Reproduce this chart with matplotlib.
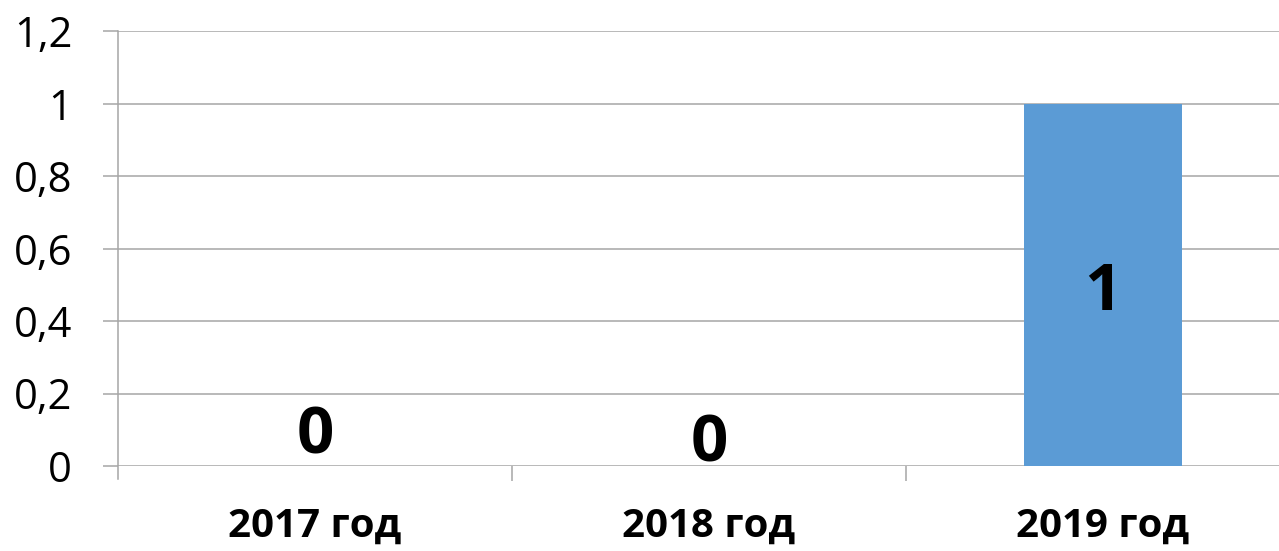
import matplotlib
matplotlib.use("Agg")
import matplotlib.pyplot as plt
from matplotlib.ticker import FixedLocator, FuncFormatter

categories = ["2017 год", "2018 год", "2019 год"]
values = [0, 0, 1]
label_texts = ["0", "0", "1"]
yticks = [0, 0.2, 0.4, 0.6, 0.8, 1.0, 1.2]

plt.rcParams['font.family'] = ['Open Sans', 'DejaVu Sans']

W, H = 1279, 551
fig = plt.figure(figsize=(W / 100, H / 100), dpi=100)
left, right, top, bottom = 118, 1300, 31, 466
ax = fig.add_axes([left / W, 1 - bottom / H, (right - left) / W, (bottom - top) / H])

grid_c = "#A6A6A6"
x = list(range(len(categories)))
ax.bar(x, values, width=0.4, color="#5B9BD5", zorder=3)

ax.set_xlim(-0.5, len(categories) - 0.5)
ax.set_ylim(0, 1.2)
ax.set_yticks(yticks)
ax.yaxis.set_major_formatter(FuncFormatter(lambda v, p: ("%g" % round(v, 1)).replace(".", ",")))
ax.grid(axis="y", color=grid_c, linewidth=1.1, zorder=0)
ax.set_axisbelow(True)

for s in ["top", "right", "bottom"]:
    ax.spines[s].set_visible(False)
ax.spines["left"].set_color(grid_c)
ax.spines["left"].set_linewidth(1.1)
ax.spines["left"].set_bounds(-0.035, 1.2)

ax.tick_params(axis="y", length=11, width=1.1, color=grid_c, labelsize=30, pad=22)
ax.set_xticks(x)
ax.set_xticklabels(categories, fontsize=29, fontweight="bold")
ax.tick_params(axis="x", which="major", length=0, pad=29)
ax.xaxis.set_minor_locator(FixedLocator([0.5, 1.5]))
ax.tick_params(axis="x", which="minor", length=11, width=1.1, color=grid_c)

# data label vertical positions (layout)
label_y = [0.08, 0.058, 0.475]
for xi, ly, t in zip(x, label_y, label_texts):
    ax.text(xi, ly, t, ha="center", va="center", fontsize=47, fontweight="bold", zorder=4)

fig.savefig("out.png", dpi=100)
